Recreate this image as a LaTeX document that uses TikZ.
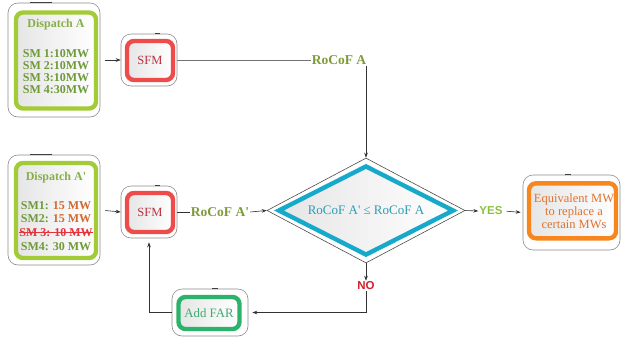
\documentclass[tikz,border=0pt]{standalone}
\usepackage{fontspec}
\setmainfont{Liberation Serif}
\newfontfamily\tagfont{Liberation Sans}
\usetikzlibrary{shapes.geometric,arrows.meta,calc}

% struck-through text: the text followed by a rule across its own width
\newsavebox{\crossbox}
\newcommand{\crossout}[1]{\sbox{\crossbox}{#1}\rlap{\usebox{\crossbox}}\rule[0.3em]{\wd\crossbox}{0.8pt}}
\newcommand{\pr}{\textquotesingle}

\definecolor{dispgreen}{HTML}{A3CB38}
\definecolor{disptitle}{HTML}{86AE4A}
\definecolor{smgreen}{HTML}{6E9A38}
\definecolor{valorange}{HTML}{D2692E}
\definecolor{strikered}{HTML}{E5323B}
\definecolor{sfmred}{HTML}{EE4B4B}
\definecolor{sfmtext}{HTML}{B8323F}
\definecolor{rocof}{HTML}{7E9B3A}
\definecolor{cyanband}{HTML}{17A9C9}
\definecolor{cyantext}{HTML}{2D9DB3}
\definecolor{yesgreen}{HTML}{8CBF3F}
\definecolor{nored}{HTML}{D0202E}
\definecolor{orangeband}{HTML}{F7861E}
\definecolor{orangetext}{HTML}{E0722F}
\definecolor{fargreen}{HTML}{2DB26B}
\definecolor{fartext}{HTML}{3FAA72}

\begin{document}
\begin{tikzpicture}[x=1pt,y=-1pt,
  shell/.style={draw=black!45, line width=0.6pt, rounded corners=10pt, inner sep=0pt},
  core/.style={line width=4.4pt, rounded corners=7pt, inner sep=0pt,
               left color=black!10, right color=white},
  tab/.style={draw=black!75, line width=1pt},
  conn/.style={draw=black!80, line width=0.6pt},
  arr/.style={conn, -{Stealth[length=5pt,width=3.6pt]}},
  lbl/.style={font=\bfseries\fontsize{13.5}{13.5}\selectfont, text=rocof, inner sep=1pt},
  tag/.style={font=\tagfont\bfseries\fontsize{11.5}{11.5}\selectfont, inner sep=1pt},
  smtext/.style={font=\bfseries\fontsize{12}{#1}\selectfont, text=smgreen, align=center, inner sep=0pt}
]
\useasboundingbox (0,0) rectangle (622,341);

% Dispatch A
\node[shell, minimum width=92pt, minimum height=114pt] (dAo) at (54,60) {};
\node[core, draw=dispgreen, minimum width=80pt, minimum height=96pt] (dA) at (56,60.5) {};
\draw[tab] ([xshift=-24pt]dAo.north) -- ([xshift=-2pt]dAo.north);
\node[font=\bfseries\fontsize{12}{12}\selectfont, text=disptitle] (dAt) at (56,25) {Dispatch A};
\node[smtext=12.2] (dAs) at (56,71.5) {SM 1:10MW\\SM 2:10MW\\SM 3:10MW\\SM 4:30MW};

% Dispatch A'
\node[shell, minimum width=92pt, minimum height=110pt] (dBo) at (54,210) {};
\node[core, draw=dispgreen, minimum width=80pt, minimum height=95pt] (dB) at (56,210.5) {};
\draw[tab] ([xshift=-24pt]dBo.north) -- ([xshift=-2pt]dBo.north);
\node[font=\bfseries\fontsize{12}{12}\selectfont, text=disptitle] (dBt) at (56,178) {Dispatch A\pr};
\node[smtext=13.9] (dBs) at (56,226) {SM1: \textcolor{valorange}{15 MW}\\
  SM2: \textcolor{valorange}{15 MW}\\
  \textcolor{strikered}{\crossout{SM 3: 10 MW}}\\
  SM4: 30 MW};

% SFM blocks
\node[shell, minimum width=56pt, minimum height=52pt] (sAo) at (149,60) {};
\node[core, draw=sfmred, minimum width=46pt, minimum height=39pt,
      font=\fontsize{12.5}{12.5}\selectfont, text=sfmtext] (sA) at (150,60.5) {SFM};
\draw[tab] ([xshift=6pt]sAo.north) -- ([xshift=11pt]sAo.north);

\node[shell, minimum width=56pt, minimum height=52pt] (sBo) at (149,212) {};
\node[core, draw=sfmred, minimum width=46pt, minimum height=39pt,
      font=\fontsize{12.5}{12.5}\selectfont, text=sfmtext] (sB) at (150,212.5) {SFM};
\draw[tab] ([xshift=6pt]sBo.north) -- ([xshift=11pt]sBo.north);

% decision
\node[diamond, shape aspect=1.95, draw=black!70, line width=0.6pt, inner sep=0pt,
      minimum width=198pt, minimum height=105pt] (dio) at (366,210.5) {};
\node[diamond, shape aspect=1.95, draw=cyanband, line width=4.4pt, inner sep=0pt,
      minimum width=176pt, minimum height=90pt, left color=black!10, right color=white,
      text=cyantext, font=\fontsize{13}{13}\selectfont] (dia) at (366,210.5) {RoCoF A\pr{} ≤ RoCoF A};

% result
\node[shell, minimum width=97pt, minimum height=75pt] (eqo) at (571.5,212.5) {};
\node[core, draw=orangeband, minimum width=87pt, minimum height=55pt] (eq) at (572.5,210.8) {};
\draw[tab] ([xshift=-7pt]eqo.north) -- ([xshift=-1pt]eqo.north);
\node[font=\fontsize{12.5}{13}\selectfont, text=orangetext, align=center, inner sep=0pt] (eqt)
      at (574,211) {Equivalent MW\\to replace a\\certain MWs};

% feedback block
\node[shell, minimum width=76pt, minimum height=47pt] (fo) at (210,312.5) {};
\node[core, draw=fargreen, minimum width=61pt, minimum height=32pt,
      font=\fontsize{12.8}{12.8}\selectfont, text=fartext] (far) at (209,313) {Add FAR};
\draw[tab] ([xshift=2pt]fo.north) -- ([xshift=8pt]fo.north);

% labels on connectors
\node[lbl] (rA) at (339,60) {RoCoF A};
\node[lbl] (rB) at (220,212) {RoCoF A\pr};
\node[tag, text=yesgreen] (yes) at (491,211) {YES};
\node[tag, text=nored] (no) at (366,286) {NO};

% connectors
\draw[arr, shorten <=5pt] (dAo.east) -- (sAo.west);
\draw[conn, draw=black!55] (sAo.east) -- (rA.west);
\draw[arr] (rA.south -| dio.north) -- (dio.north);
\draw[arr, shorten <=5pt] (dBo.east) -- (sBo.west);
\draw[conn] (sBo.east) -- (rB.west);
\draw[arr] (rB.east) -- (dio.west);
\draw[arr] (dio.east) -- (yes.west);
\draw[arr, shorten <=3pt, shorten >=2pt] (yes.east) -- (eqo.west);
\draw[arr] (dio.south) -- (no.north);
\draw[arr, shorten >=4pt] (no.south) |- (fo.east);
\draw[arr, shorten >=4pt] (fo.west) -| (sBo.south);
\end{tikzpicture}
\end{document}
